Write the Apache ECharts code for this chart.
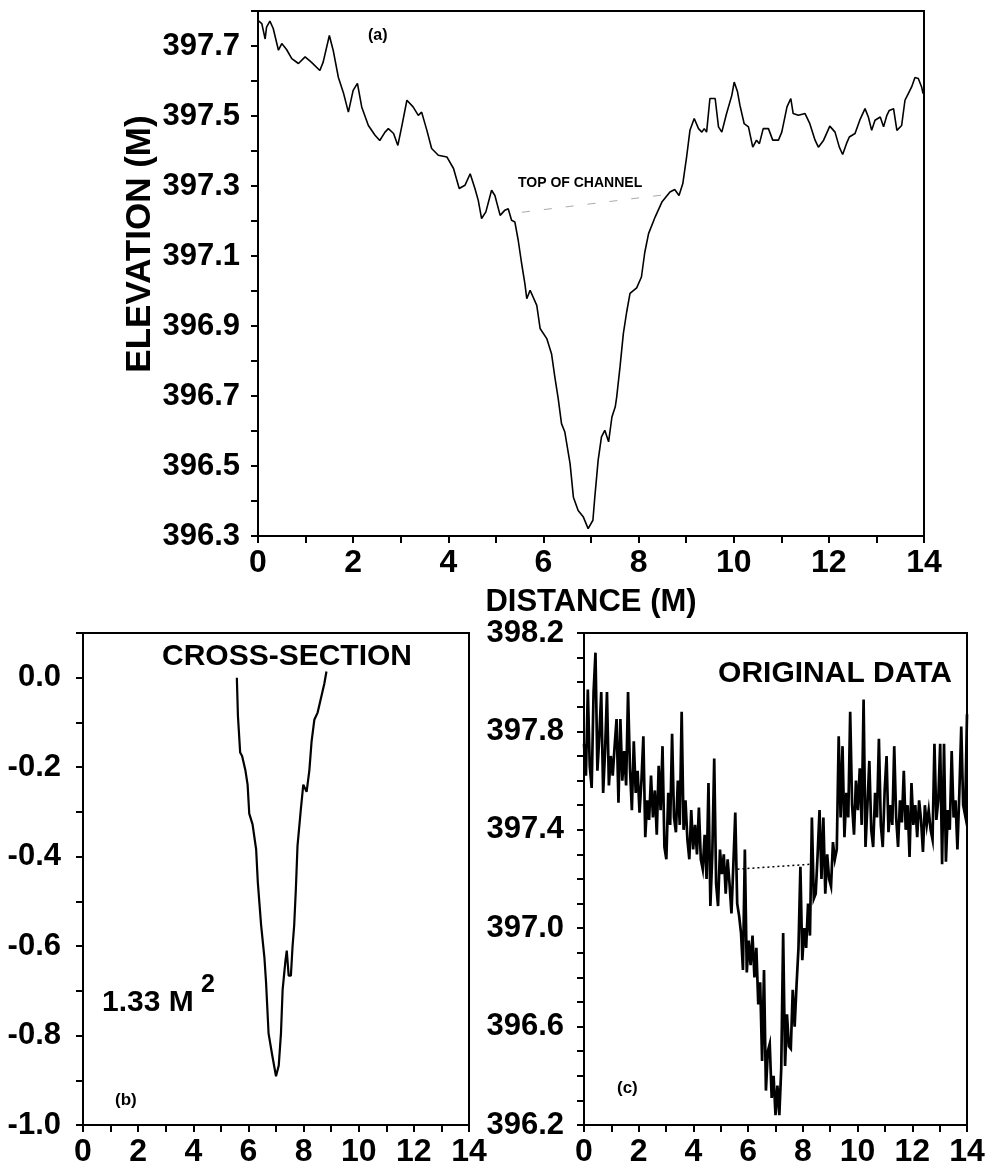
<!DOCTYPE html>
<html>
<head>
<meta charset="utf-8">
<title>Channel profile</title>
<script src="https://cdn.jsdelivr.net/npm/echarts@6/dist/echarts.min.js"></script>
<style>
  html, body { margin: 0; padding: 0; background: #fff; }
  #chart { width: 994px; height: 1168px; }
</style>
</head>
<body>
<div id="chart"></div>
<script>
// (a) smoothed profile: distance (m) and elevation (m)
var profileDist = [0.00,0.08,0.15,0.18,0.25,0.32,0.43,0.50,0.60,0.71,0.85,0.99,1.12,1.30,1.37,1.50,1.58,1.69,1.80,1.90,
  2.00,2.09,2.18,2.32,2.46,2.56,2.67,2.74,2.85,2.94,3.02,3.13,3.17,3.26,3.37,3.44,3.55,3.65,3.79,3.97,
  4.11,4.23,4.35,4.46,4.56,4.63,4.70,4.79,4.91,4.98,5.09,5.19,5.26,5.33,5.40,5.47,5.54,5.61,5.65,5.72,
  5.86,5.93,6.07,6.17,6.24,6.31,6.38,6.45,6.56,6.63,6.73,6.84,6.94,7.04,7.08,7.15,7.22,7.29,7.37,7.44,
  7.51,7.54,7.61,7.68,7.75,7.82,7.96,8.06,8.13,8.21,8.35,8.49,8.66,8.76,8.85,8.93,9.01,9.08,9.17,9.26,
  9.33,9.38,9.43,9.50,9.61,9.68,9.75,9.85,9.96,10.01,10.08,10.13,10.22,10.31,10.40,10.48,10.54,10.62,10.73,10.82,
  10.94,11.01,11.12,11.20,11.25,11.36,11.50,11.60,11.71,11.78,11.89,12.02,12.13,12.22,12.29,12.37,12.43,12.55,12.65,12.76,
  12.83,12.90,12.97,13.08,13.15,13.22,13.27,13.36,13.43,13.53,13.60,13.67,13.74,13.81,13.88,13.95,13.98];
var profileElev = [397.773,397.764,397.72,397.754,397.771,397.75,397.688,397.707,397.69,397.664,397.65,397.669,397.654,397.63,397.654,397.73,397.688,397.61,397.564,397.511,
  397.573,397.593,397.526,397.473,397.445,397.43,397.454,397.464,397.45,397.416,397.469,397.545,397.55,397.526,397.502,397.511,397.459,397.407,397.388,397.383,
  397.35,397.293,397.302,397.335,397.293,397.259,397.207,397.226,397.288,397.273,397.216,397.231,397.235,397.202,397.197,397.145,397.08,397.021,396.978,397.002,
  396.959,396.893,396.864,396.821,396.754,396.693,396.621,396.597,396.507,396.411,396.373,396.354,396.321,396.345,396.411,396.516,396.583,396.602,396.569,396.64,
  396.669,396.697,396.783,396.878,396.94,396.993,397.009,397.04,397.11,397.164,397.212,397.254,397.283,397.29,397.273,397.307,397.383,397.459,397.493,397.464,
  397.454,397.464,397.454,397.55,397.55,397.469,397.454,397.507,397.559,397.597,397.569,397.531,397.478,397.469,397.411,397.431,397.421,397.464,397.464,397.431,
  397.431,397.454,397.526,397.55,397.507,397.502,397.507,397.478,397.431,397.411,397.431,397.471,397.454,397.411,397.39,397.421,397.44,397.45,397.488,397.521,
  397.497,397.459,397.488,397.497,397.469,397.502,397.516,397.521,397.459,397.473,397.545,397.564,397.583,397.61,397.607,397.583,397.564];
var channelTopA = [[5.55, 397.225], [8.55, 397.275]];

// (b) cross-section: depth below top of channel (m)
var sectionDist = [5.58,5.62,5.70,5.77,5.89,5.97,6.03,6.15,6.28,6.34,6.46,6.58,6.64,6.73,6.86,7.00,7.10,7.18,7.24,7.34,
  7.39,7.46,7.54,7.60,7.66,7.72,7.78,7.90,7.99,8.11,8.21,8.29,8.39,8.51,8.63,8.75,8.83];
var sectionDepth = [0.00,-0.086,-0.167,-0.175,-0.207,-0.239,-0.304,-0.328,-0.384,-0.457,-0.553,-0.626,-0.682,-0.795,-0.843,-0.891,-0.867,-0.795,-0.698,-0.634,
  -0.610,-0.666,-0.666,-0.601,-0.553,-0.473,-0.376,-0.295,-0.239,-0.255,-0.207,-0.143,-0.094,-0.078,-0.046,-0.014,0.014];

// (c) original data, one reading every 0.07 m from 0 to 14 m
var rawStep = 0.07;
var rawElev = [397.75,397.62,397.97,397.66,397.57,397.96,398.12,397.64,397.78,397.96,397.55,397.72,397.96,397.58,397.70,
  397.62,397.74,397.85,397.51,397.85,397.60,397.72,397.58,397.96,397.65,397.48,397.76,397.55,397.64,
  397.47,397.60,397.78,397.37,397.52,397.44,397.62,397.45,397.56,397.38,397.66,397.48,397.74,397.33,
  397.28,397.55,397.42,397.79,397.45,397.39,397.60,397.42,397.88,397.40,397.52,397.36,397.28,397.48,397.32,
  397.42,397.30,397.49,397.28,397.24,397.38,397.20,397.59,397.09,397.30,397.69,397.18,397.09,397.32,
  397.22,397.30,397.14,397.28,397.18,397.06,397.26,397.47,397.10,397.05,396.98,396.83,397.32,396.82,
  396.95,396.85,396.97,396.80,396.92,396.69,396.78,396.46,396.83,396.34,396.50,396.53,396.31,396.40,396.24,
  396.36,396.24,396.43,396.98,396.44,396.65,396.52,396.51,396.75,396.60,396.77,396.92,397.25,396.87,
  397.00,396.92,397.10,396.97,397.45,397.12,397.14,397.30,397.48,397.20,397.45,397.14,397.30,397.20,
  397.17,397.35,397.28,397.32,397.78,397.45,397.74,397.37,397.55,397.45,397.88,397.50,397.38,397.60,
  397.48,397.65,397.42,397.93,397.33,397.50,397.68,397.40,397.33,397.55,397.45,397.77,397.42,397.33,397.56,
  397.70,397.39,397.50,397.42,397.74,397.45,397.33,397.52,397.43,397.64,397.40,397.50,397.29,397.59,
  397.42,397.50,397.37,397.52,397.44,397.31,397.50,397.42,397.48,397.40,397.36,397.75,397.44,397.52,
  397.75,397.26,397.75,397.27,397.48,397.40,397.72,397.45,397.52,397.32,397.55,397.82,397.50,397.46,397.87];
var channelTopC = [[5.61, 397.24], [8.30, 397.26]];

var FONT = "'Liberation Sans', Arial, Helvetica, sans-serif";

function zip(xs, ys) {
  return xs.map(function (x, i) { return [x, ys[i]]; });
}
var rawData = rawElev.map(function (v, i) { return [+(i * rawStep).toFixed(2), v]; });

function xAxisFor(gridIndex) {
  return {
    type: 'value', gridIndex: gridIndex, min: 0, max: 14, interval: 1,
    axisLine: { onZero: false, lineStyle: { color: '#000', width: 2 } },
    axisTick: { inside: false, length: 7, lineStyle: { color: '#000', width: 2 } },
    splitLine: { show: false },
    axisLabel: {
      margin: 11, color: '#000', fontSize: 32, fontWeight: 'bold', fontFamily: FONT,
      formatter: function (v) { return Math.round(v) % 2 === 0 ? String(Math.round(v)) : ''; }
    }
  };
}

function yAxisFor(gridIndex, min, max, labelEvery, margin) {
  return {
    type: 'value', gridIndex: gridIndex, min: min, max: max, interval: 0.1,
    axisLine: { onZero: false, lineStyle: { color: '#000', width: 2 } },
    axisTick: { inside: false, length: 7, lineStyle: { color: '#000', width: 2 } },
    splitLine: { show: false },
    axisLabel: {
      margin: margin, color: '#000', fontSize: 31, fontWeight: 'bold', fontFamily: FONT,
      formatter: function (v) {
        var k = Math.round((v - min) * 10);
        return k % labelEvery === 0 ? v.toFixed(1) : '';
      }
    }
  };
}

function txt(text, x, y, size, align) {
  return {
    type: 'text', x: x, y: y,
    style: {
      text: text, fill: '#000', font: 'bold ' + size + 'px ' + FONT,
      textAlign: align || 'left', textVerticalAlign: 'middle'
    }
  };
}

var chart = echarts.init(document.getElementById('chart'));

var option = {
  backgroundColor: '#fff',
  animation: false,
  grid: [
    { left: 258, top: 11, width: 666, height: 525, show: true, borderColor: '#000', borderWidth: 2 },
    { left: 83, top: 633, width: 386, height: 494, show: true, borderColor: '#000', borderWidth: 2 },
    { left: 584, top: 633, width: 383, height: 493, show: true, borderColor: '#000', borderWidth: 2 }
  ],
  xAxis: [xAxisFor(0), xAxisFor(1), xAxisFor(2)],
  yAxis: [
    yAxisFor(0, 396.3, 397.8, 2, 18),
    yAxisFor(1, -1.0, 0.1, 2, 22),
    yAxisFor(2, 396.2, 398.2, 4, 20)
  ],
  series: [
    {
      type: 'line', xAxisIndex: 0, yAxisIndex: 0, data: zip(profileDist, profileElev),
      showSymbol: false, lineStyle: { color: '#000', width: 1.6 }
    },
    {
      type: 'line', xAxisIndex: 0, yAxisIndex: 0, data: channelTopA,
      showSymbol: false, lineStyle: { color: '#aaa', width: 1, type: [8, 14] }
    },
    {
      type: 'line', xAxisIndex: 1, yAxisIndex: 1, data: zip(sectionDist, sectionDepth),
      showSymbol: false, lineStyle: { color: '#000', width: 2.2 }
    },
    {
      type: 'line', xAxisIndex: 2, yAxisIndex: 2, data: rawData,
      showSymbol: false, lineStyle: { color: '#000', width: 2.7, join: 'miter' }
    },
    {
      type: 'line', xAxisIndex: 2, yAxisIndex: 2, data: channelTopC,
      showSymbol: false, lineStyle: { color: '#000', width: 1.5, type: [2, 3] }
    }
  ],
  graphic: [
    {
      type: 'text', x: 140, y: 244, rotation: Math.PI / 2,
      style: { text: 'ELEVATION (M)', fill: '#000', font: 'bold 35px ' + FONT, textAlign: 'center', textVerticalAlign: 'middle' }
    },
    txt('DISTANCE (M)', 591, 602, 31, 'center'),
    txt('(a)', 368, 36, 16),
    txt('TOP OF CHANNEL', 518, 183, 14),
    txt('CROSS-SECTION', 287, 657, 30, 'center'),
    txt('1.33 M', 102, 1003, 30),
    txt('2', 201, 985, 25),
    txt('(b)', 115, 1100, 17),
    txt('ORIGINAL DATA', 835, 674, 30, 'center'),
    txt('(c)', 617, 1088, 17)
  ]
};

chart.setOption(option);
</script>
</body>
</html>
